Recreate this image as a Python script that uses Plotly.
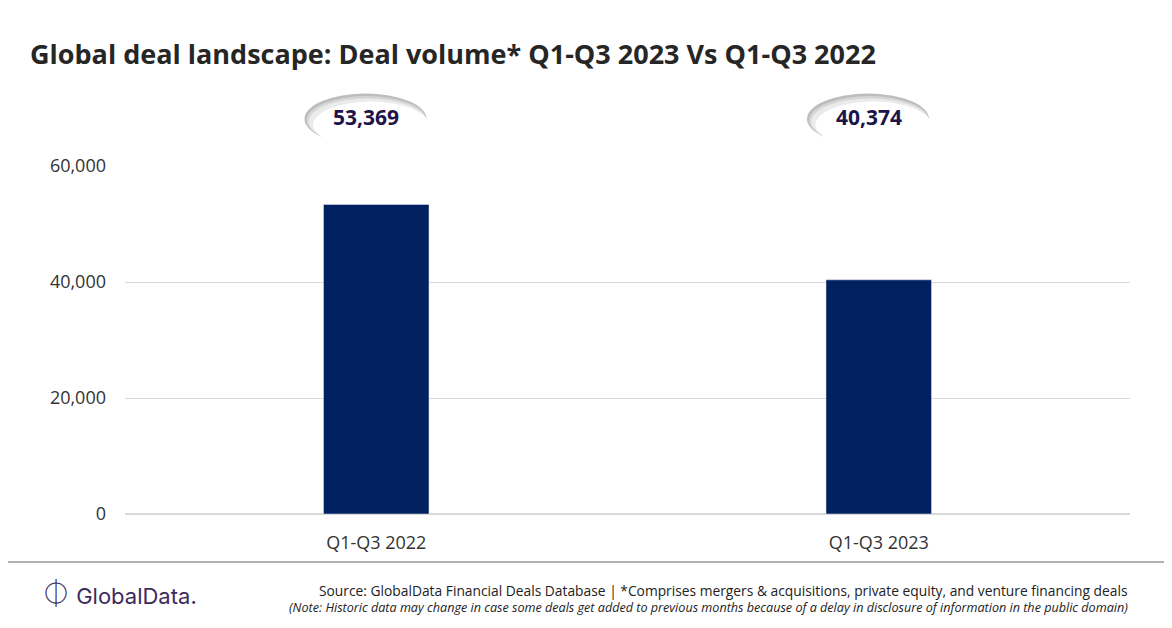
import plotly.graph_objects as go

periods = ["Q1-Q3 2022", "Q1-Q3 2023"]
deal_volume = [53369, 40374]
tick_vals = [0, 20000, 40000, 60000]
tick_text = ["0", "20,000", "40,000", "60,000"]

FONT = "Open Sans"
pos = list(range(len(periods)))

fig = go.Figure(go.Bar(
    x=pos, y=deal_volume, width=0.21, marker_color="#002060",
    hoverinfo="skip",
))

shapes = []
annotations = []
for p, v in zip(pos, deal_volume):
    # shadowed ellipse callout
    for i, col in enumerate(["#bdbdbd", "#d6d6d6", "#ebebeb"]):
        d = 0.007 * (i + 1)
        shapes.append(dict(type="circle", xref="x", yref="paper",
                           x0=p - 0.147 + d * 0.6, x1=p + 0.100, y0=1.062, y1=1.215 - d,
                           fillcolor=col, line_width=0, layer="above"))
    shapes.append(dict(type="circle", xref="x", yref="paper",
                       x0=p - 0.126, x1=p + 0.104, y0=1.052, y1=1.185,
                       fillcolor="white", line_width=0, layer="above"))
    annotations.append(dict(x=p - 0.02, y=1.14, xref="x", yref="paper", yanchor="middle",
                            text=f"<b>{v:,}</b>", showarrow=False,
                            font=dict(family=FONT, size=21, color="#20134a")))

shapes.append(dict(type="line", xref="paper", yref="paper", x0=-0.13, x1=1.05,
                   y0=-0.138, y1=-0.138, line=dict(color="#999999", width=1.5)))

annotations += [
    dict(x=1.0, y=-0.22, xref="paper", yref="paper", xanchor="right", yanchor="middle",
         text="Source: GlobalData Financial Deals Database | *Comprises mergers & acquisitions, private equity, and venture financing deals",
         showarrow=False, font=dict(family=FONT, size=13.8, color="#222")),
    dict(x=1.0, y=-0.268, xref="paper", yref="paper", xanchor="right", yanchor="middle",
         text="<i>(Note: Historic data may change in case some deals get added to previous months because of a delay in disclosure of information in the public domain)</i>",
         showarrow=False, font=dict(family=FONT, size=12.6, color="#222")),
    dict(x=-0.085, y=-0.23, xref="paper", yref="paper", xanchor="left", yanchor="middle",
         text="<span style='font-size:28px'>⏀</span> GlobalData.", showarrow=False,
         font=dict(family="Inter", size=22, color="#3d2a5e")),
]

W, H = 1156, 612
fig.update_layout(
    width=W, height=H,
    margin=dict(l=117, r=34, t=158, b=106),
    paper_bgcolor="white", plot_bgcolor="white",
    showlegend=False,
    title=dict(text="<b>Global deal landscape: Deal volume* Q1-Q3 2023 Vs Q1-Q3 2022</b>",
               x=22 / W, xanchor="left", y=1 - 47 / H, yanchor="middle",
               font=dict(family=FONT, size=27, color="#262626")),
    xaxis=dict(range=[-0.5, 1.5], tickvals=pos, ticktext=periods, showgrid=False,
               zeroline=False, showline=False, ticks="", ticklabelstandoff=16,
               tickfont=dict(family=FONT, size=18, color="#333")),
    yaxis=dict(range=[0, 60000], tickvals=tick_vals, ticktext=tick_text,
               showgrid=True, gridcolor="#d9d9d9", zeroline=True, zerolinecolor="#d9d9d9",
               ticks="", ticklabelstandoff=18,
               tickfont=dict(family=FONT, size=18, color="#333")),
    shapes=shapes, annotations=annotations,
)

fig.write_html("out.html")
